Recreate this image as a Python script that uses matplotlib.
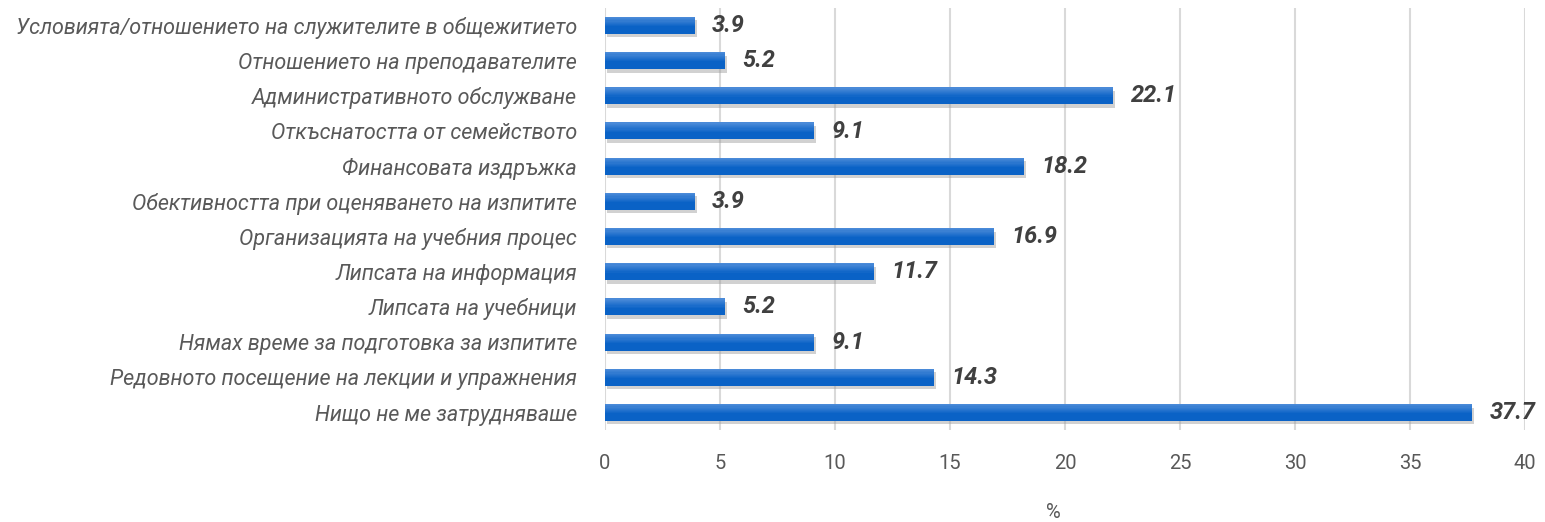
import matplotlib
matplotlib.use('Agg')
import matplotlib.pyplot as plt
import matplotlib.patheffects as pe
import numpy as np

categories = [
    'Условията/отношението на служителите в общежитието',
    'Отношението на преподавателите',
    'Административното обслужване',
    'Откъснатостта от семейството',
    'Финансовата издръжка',
    'Обективността при оценяването на изпитите',
    'Организацията на учебния процес',
    'Липсата на информация',
    'Липсата на учебници',
    'Нямах време за подготовка за изпитите',
    'Редовното посещение на лекции и упражнения',
    'Нищо не ме затрудняваше',
]
values = [3.9, 5.2, 22.1, 9.1, 18.2, 3.9, 16.9, 11.7, 5.2, 9.1, 14.3, 37.7]
xticks = [0, 5, 10, 15, 20, 25, 30, 35, 40]

plt.rcParams['font.family'] = ['Roboto', 'DejaVu Sans']

fig = plt.figure(figsize=(15.45, 5.22), dpi=100)
ax = fig.add_axes([0.3916, 0.176, 0.5955, 0.809])

ypos = list(range(len(categories)))[::-1]
bars = ax.barh(ypos, values, height=0.48, color='#0A62C6', zorder=3)

# vertical gradient: light at top, dark toward bottom
dark = np.array([0x0A, 0x62, 0xC6]) / 255
light = np.array([0x4A, 0x8A, 0xD8]) / 255
nstrip = 8
for b in bars:
    b.set_path_effects([pe.SimplePatchShadow(offset=(1.5, -2.5), shadow_rgbFace='#999999', alpha=0.45),
                        pe.Normal()])
    x, y, h = b.get_x(), b.get_y(), b.get_height()
    top = 0.55
    for i in range(nstrip):
        t = (i + 1) / nstrip
        c = dark + (light - dark) * t
        y0 = y + h * (1 - top) + h * top * i / nstrip
        ax.barh(y0, b.get_width(), height=h * top / nstrip + 0.002, left=x,
                align='edge', color=c, linewidth=0, zorder=4)

for y, v in zip(ypos, values):
    ax.text(v + 0.75, y, f'{v:.1f}', va='center', ha='left', fontsize=17,
            fontweight='bold', fontstyle='italic', color='#404040', zorder=5)

ax.set_yticks(ypos)
ax.set_yticklabels(categories, fontsize=15.5, fontstyle='italic', color='#595959')
ax.set_xticks(xticks)
ax.set_xticklabels([str(t) for t in xticks], fontsize=14.5, color='#595959')
ax.set_xlim(0, 40)
ax.set_ylim(-0.5, len(categories) - 0.5)
ax.tick_params(length=0, axis='y', pad=20)
ax.tick_params(length=0, axis='x', pad=17)
ax.grid(axis='x', color='#d9d9d9', linewidth=1.5, zorder=0)
for s in ax.spines.values():
    s.set_visible(False)
ax.set_xlabel('%', fontsize=14.5, color='#595959')
ax.xaxis.set_label_coords(0.487, -0.172)

plt.savefig('out.png')
